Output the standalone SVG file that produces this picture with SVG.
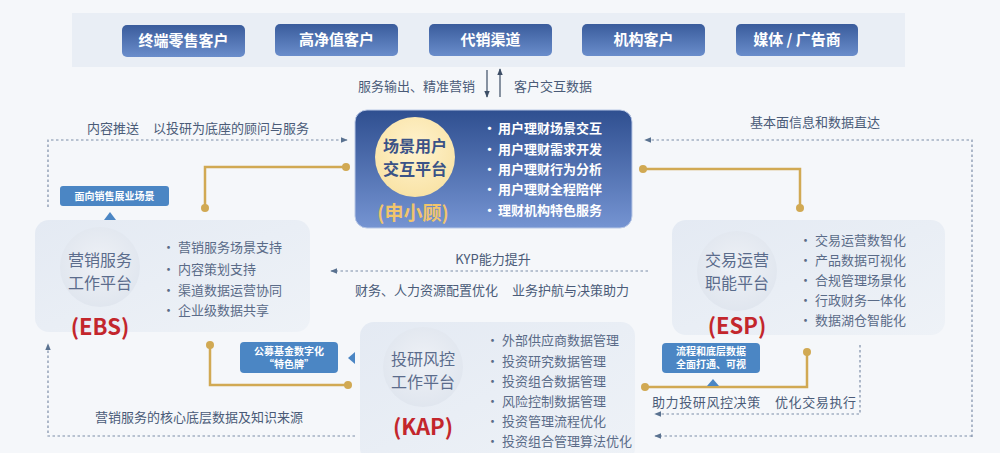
<svg xmlns="http://www.w3.org/2000/svg" width="1000" height="453" viewBox="0 0 1000 453">
<defs>
<linearGradient id="btn" x1="0" y1="0" x2="0" y2="1"><stop offset="0" stop-color="#3a5c9c"/><stop offset="1" stop-color="#6a8dcb"/></linearGradient>
<linearGradient id="ctr" x1="0" y1="0" x2="0" y2="1"><stop offset="0" stop-color="#2f4f90"/><stop offset="1" stop-color="#7594d2"/></linearGradient>
<radialGradient id="sun" cx="0.5" cy="0.4" r="0.6"><stop offset="0" stop-color="#fff3cf"/><stop offset="1" stop-color="#f9e3a6"/></radialGradient>
<radialGradient id="disc" cx="0.5" cy="0.45" r="0.6"><stop offset="0" stop-color="#eef1f6"/><stop offset="1" stop-color="#dfe5ee"/></radialGradient>
<linearGradient id="pnl" x1="0" y1="0" x2="1" y2="1"><stop offset="0" stop-color="#e4eaf3"/><stop offset="1" stop-color="#eef2f7"/></linearGradient>
<marker id="ah" viewBox="0 0 10 10" refX="9" refY="5" markerWidth="6" markerHeight="6" orient="auto-start-reverse"><path d="M0,1 L10,5 L0,9 z" fill="#5a7290"/></marker>
<marker id="ahk" viewBox="0 0 10 10" refX="9" refY="5" markerWidth="6" markerHeight="6" orient="auto-start-reverse"><path d="M0,1 L10,5 L0,9 z" fill="#3d4e66"/></marker>
<marker id="dot" viewBox="0 0 10 10" refX="5" refY="5" markerWidth="4" markerHeight="4"><circle cx="5" cy="5" r="4" fill="#d1a953"/></marker>
</defs>
<style>
text{font-family:"Noto Sans CJK SC","Noto Sans",sans-serif}
.btnt{fill:#ffffff;font-size:15px;font-weight:700;text-anchor:middle}
.lbl{fill:#4a5b78;font-size:13px}
.blt{fill:#5a6b88;font-size:13px}
.wblt{fill:#ffffff;font-size:13px;font-weight:700}
.ctit{fill:#5b6c8c;font-size:16px;text-anchor:middle}
.red{fill:#c3262c;font-size:22px;font-weight:700;text-anchor:middle}
.dash{fill:none;stroke:#7d8ea8;stroke-width:1.2;stroke-dasharray:2.5 2.5}
.gold{fill:none;stroke:#d1a953;stroke-width:2.5}
.badge{fill:#4b86c4}
.bt{fill:#ffffff;font-size:10px;font-weight:700;text-anchor:middle}
</style>
<rect width="1000" height="453" fill="#f5f7fa"/>
<rect x="72" y="13" width="833" height="54" fill="#e9eef5"/>

<g id="top-customers">
<g id="n-retail"><rect x="122" y="25" width="123" height="32" rx="5" fill="url(#btn)"/><text class="btnt" x="183.5" y="46">终端零售客户</text></g>
<g id="n-hnw"><rect x="275" y="24" width="123" height="32" rx="5" fill="url(#btn)"/><text class="btnt" x="336.5" y="45">高净值客户</text></g>
<g id="n-channel"><rect x="429" y="24" width="123" height="32" rx="5" fill="url(#btn)"/><text class="btnt" x="490.5" y="45">代销渠道</text></g>
<g id="n-inst"><rect x="582" y="24" width="123" height="32" rx="5" fill="url(#btn)"/><text class="btnt" x="643.5" y="45">机构客户</text></g>
<g id="n-media"><rect x="736" y="24" width="122" height="32" rx="5" fill="url(#btn)"/><text class="btnt" x="797" y="45">媒体 / 广告商</text></g>
</g>

<g id="panels">
<rect x="35" y="220" width="275" height="112" rx="14" fill="url(#pnl)"/>
<rect x="672" y="220" width="273" height="115" rx="14" fill="url(#pnl)"/>
<rect x="360" y="322" width="275" height="140" rx="14" fill="url(#pnl)"/>
</g>

<g id="connectors">
<line x1="487" y1="70" x2="487" y2="97" stroke="#3d4e66" stroke-width="1.2" marker-end="url(#ahk)"/>
<line x1="500" y1="97" x2="500" y2="69" stroke="#3d4e66" stroke-width="1.2" marker-end="url(#ahk)"/>
<polyline class="dash" points="48,207 48,140 347,140" marker-end="url(#ah)"/>
<polyline class="dash" points="972,437 972,140 645,140" marker-end="url(#ah)"/>
<line class="dash" x1="648" y1="271" x2="331" y2="271" marker-end="url(#ah)"/>
<polyline class="dash" points="355,436 48,436 48,344" marker-end="url(#ah)"/>
<polyline class="dash" points="972,436 655,436" marker-end="url(#ah)"/>
<polyline class="dash" points="860,345 860,414 655,414" marker-end="url(#ah)"/>
<polyline class="gold" points="205,208 205,167 346,167" marker-start="url(#dot)" marker-end="url(#dot)"/>
<polyline class="gold" points="643,169 800,169 800,208" marker-start="url(#dot)" marker-end="url(#dot)"/>
<polyline class="gold" points="210,345 210,385 348,385" marker-start="url(#dot)" marker-end="url(#dot)"/>
<polyline class="gold" points="645,387 807,387 807,352" marker-start="url(#dot)" marker-end="url(#dot)"/>
</g>

<g id="labels">
<text class="lbl" x="475" y="91" text-anchor="end">服务输出、精准营销</text>
<text class="lbl" x="514" y="91">客户交互数据</text>
<text class="lbl" x="87" y="133">内容推送</text>
<text class="lbl" x="153" y="133">以投研为底座的顾问与服务</text>
<text class="lbl" x="815" y="127" text-anchor="middle">基本面信息和数据直达</text>
<text class="lbl" x="493" y="264" text-anchor="middle">KYP能力提升</text>
<text class="lbl" x="355" y="295">财务、人力资源配置优化</text>
<text class="lbl" x="512" y="295">业务护航与决策助力</text>
<text class="lbl" x="95" y="422">营销服务的核心底层数据及知识来源</text>
<text class="lbl" x="652" y="407" font-size="12" letter-spacing="0.6">助力投研风控决策</text>
<text class="lbl" x="775" y="407" font-size="12" letter-spacing="0.6">优化交易执行</text>
</g>

<g id="n-center">
<rect x="355" y="110" width="277" height="118" rx="12" fill="url(#ctr)" stroke="#b9c8e6" stroke-width="1"/>
<circle cx="415" cy="157" r="40" fill="url(#sun)"/>
<text x="415" y="152" font-size="16" font-weight="700" fill="#3a5287" text-anchor="middle">场景用户</text>
<text x="415" y="175" font-size="16" font-weight="700" fill="#3a5287" text-anchor="middle">交互平台</text>
<text x="413" y="220" font-size="19" font-weight="700" fill="#f1c56c" text-anchor="middle">(申小顾)</text>
<g class="wblt">
<text x="483" y="133">·</text><text x="498" y="133">用户理财场景交互</text>
<text x="483" y="154">·</text><text x="498" y="154">用户理财需求开发</text>
<text x="483" y="174">·</text><text x="498" y="174">用户理财行为分析</text>
<text x="483" y="194">·</text><text x="498" y="194">用户理财全程陪伴</text>
<text x="483" y="215">·</text><text x="498" y="215">理财机构特色服务</text>
</g>
</g>

<g id="n-ebs">
<circle cx="100" cy="267" r="40" fill="url(#disc)"/>
<text class="ctit" x="100" y="266">营销服务</text>
<text class="ctit" x="100" y="289">工作平台</text>
<text class="red" x="100" y="335">(EBS)</text>
<g class="blt">
<text x="162" y="252">•</text><text x="178" y="252">营销服务场景支持</text>
<text x="162" y="274">•</text><text x="178" y="274">内容策划支持</text>
<text x="162" y="295">•</text><text x="178" y="295">渠道数据运营协同</text>
<text x="162" y="315">•</text><text x="178" y="315">企业级数据共享</text>
</g>
</g>
<g id="b-ebs">
<rect class="badge" x="60" y="186" width="109" height="20" rx="3"/>
<text class="bt" x="114.5" y="200">面向销售展业场景</text>
<path d="M104,220 L110,212 L116,220 z" fill="#4b86c4"/>
</g>

<g id="n-esp">
<circle cx="737" cy="271" r="40" fill="url(#disc)"/>
<text class="ctit" x="737" y="266">交易运营</text>
<text class="ctit" x="737" y="289">职能平台</text>
<text class="red" x="737" y="334">(ESP)</text>
<g class="blt">
<text x="799" y="245">•</text><text x="815" y="245">交易运营数智化</text>
<text x="799" y="265">•</text><text x="815" y="265">产品数据可视化</text>
<text x="799" y="285">•</text><text x="815" y="285">合规管理场景化</text>
<text x="799" y="305">•</text><text x="815" y="305">行政财务一体化</text>
<text x="799" y="325">•</text><text x="815" y="325">数据湖仓智能化</text>
</g>
</g>
<g id="b-esp">
<rect class="badge" x="662" y="343" width="98" height="30" rx="4"/>
<text class="bt" x="711" y="355">流程和底层数据</text>
<text class="bt" x="711" y="368">全面打通、可视</text>
<path d="M707,386 L713,379 L719,386 z" fill="#4b86c4"/>
</g>

<g id="n-kap">
<circle cx="423" cy="367" r="40" fill="url(#disc)"/>
<text class="ctit" x="423" y="365">投研风控</text>
<text class="ctit" x="423" y="388">工作平台</text>
<text class="red" x="423" y="435">(KAP)</text>
<g class="blt">
<text x="486" y="345">•</text><text x="502" y="345">外部供应商数据管理</text>
<text x="486" y="366">•</text><text x="502" y="366">投资研究数据管理</text>
<text x="486" y="386">•</text><text x="502" y="386">投资组合数据管理</text>
<text x="486" y="406">•</text><text x="502" y="406">风险控制数据管理</text>
<text x="486" y="426">•</text><text x="502" y="426">投资管理流程优化</text>
<text x="486" y="446">•</text><text x="502" y="446">投资组合管理算法优化</text>
</g>
</g>
<g id="b-kap">
<rect class="badge" x="240" y="342" width="98" height="31" rx="4"/>
<text class="bt" x="289" y="355">公募基金数字化</text>
<text class="bt" x="289" y="368">“特色牌”</text>
<path d="M348,358 L355,352 L355,364 z" fill="#4b86c4"/>
</g>
</svg>
